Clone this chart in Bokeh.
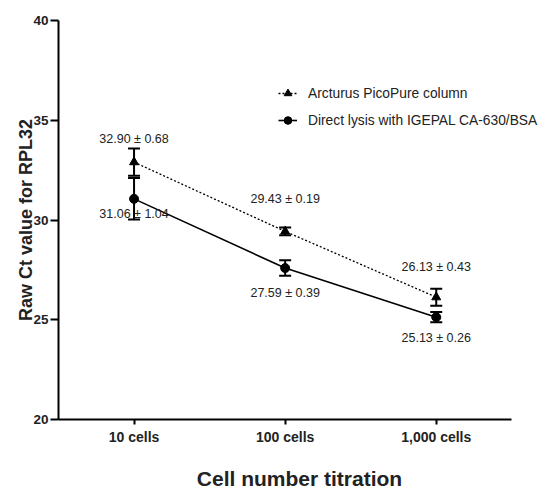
from bokeh.plotting import figure
from bokeh.models import (ColumnDataSource, Range1d, FixedTicker, Whisker,
                          TeeHead, Legend, LegendItem, LabelSet)
from bokeh.core.properties import value
from bokeh.embed import file_html
from bokeh.resources import INLINE

cells = ["10 cells", "100 cells", "1,000 cells"]
pico_mean = [32.90, 29.43, 26.13]
pico_err = [0.68, 0.19, 0.43]
direct_mean = [31.06, 27.59, 25.13]
direct_err = [1.04, 0.39, 0.26]
pico_name = "Arcturus PicoPure column"
direct_name = "Direct lysis with IGEPAL CA-630/BSA"
y_ticks = [20, 25, 30, 35, 40]

FONT = "Liberation Sans"
xpos = list(range(len(cells)))

p = figure(width=540, height=492, x_range=Range1d(-0.5, 2.69),
           y_range=Range1d(20, 40), output_backend="svg", toolbar_location=None,
           min_border_left=58, min_border_right=0, min_border_top=20, min_border_bottom=73)
p.outline_line_color = None
p.grid.grid_line_color = None
p.background_fill_color = "white"
p.border_fill_color = "white"

def make_src(mean, err, yoff):
    return ColumnDataSource(dict(x=xpos, y=mean,
                                 upper=[m + e for m, e in zip(mean, err)],
                                 lower=[m - e for m, e in zip(mean, err)],
                                 label=[f"{m:.2f} \u00b1 {e:.2f}" for m, e in zip(mean, err)],
                                 yoff=yoff))

src_p = make_src(pico_mean, pico_err, [23, 32, 30])
src_d = make_src(direct_mean, direct_err, [-15, -25, -21])

lp = p.line("x", "y", source=src_p, line_color="black", line_width=1.3, line_dash="2 2")
sp = p.scatter("x", "y", source=src_p, marker="triangle", size=9, color="black")
ld = p.line("x", "y", source=src_d, line_color="black", line_width=1.6)
sd = p.scatter("x", "y", source=src_d, marker="circle", size=9, color="black")

for src in (src_p, src_d):
    w = Whisker(base="x", upper="upper", lower="lower", source=src, line_width=2,
                upper_head=TeeHead(size=12, line_width=2),
                lower_head=TeeHead(size=12, line_width=2))
    p.add_layout(w)

for src in (src_p, src_d):
    p.add_layout(LabelSet(x="x", y="y", text="label", source=src, y_offset={"field": "yoff"},
                          text_align="center", text_baseline="middle",
                          text_font=value(FONT), text_font_size="12.5px",
                          text_color="#222222"))

# axes
p.yaxis.ticker = FixedTicker(ticks=y_ticks)
p.xaxis.ticker = FixedTicker(ticks=xpos)
p.xaxis.major_label_overrides = {i: c for i, c in zip(xpos, cells)}
p.xaxis.bounds = (-0.5, 2.5)
for ax in (p.xaxis[0], p.yaxis[0]):
    ax.axis_line_width = 2
    ax.major_tick_line_width = 2
    ax.major_tick_in = 0
    ax.minor_tick_line_color = None
    ax.major_label_text_font = FONT
    ax.major_label_text_font_style = "bold"
    ax.major_label_text_color = "#222222"
    ax.axis_label_text_font = FONT
    ax.axis_label_text_font_style = "bold"
    ax.axis_label_text_color = "#222222"
p.yaxis.major_tick_out = 8
p.xaxis.major_tick_out = 5
p.yaxis.major_label_text_font_size = "13.5px"
p.xaxis.major_label_text_font_size = "14px"
p.yaxis.axis_label = "Raw Ct value for RPL32"
p.yaxis.axis_label_text_font_size = "18px"
p.yaxis.axis_label_standoff = -6
p.yaxis.major_label_standoff = 2
p.xaxis.axis_label = "Cell number titration"
p.xaxis.axis_label_text_font_size = "21px"
p.xaxis.axis_label_standoff = 19
p.xaxis.major_label_standoff = 4

legend = Legend(items=[LegendItem(label=pico_name, renderers=[lp, sp]),
                       LegendItem(label=direct_name, renderers=[ld, sd])],
                location=(220, 289), padding=0, margin=0, spacing=7,
                glyph_width=19, glyph_height=20, label_standoff=11,
                border_line_alpha=0, background_fill_alpha=0,
                label_text_font=FONT, label_text_font_size="13.8px",
                label_text_color="#222222")
p.add_layout(legend)

open("out.html", "w").write(file_html(p, INLINE))
